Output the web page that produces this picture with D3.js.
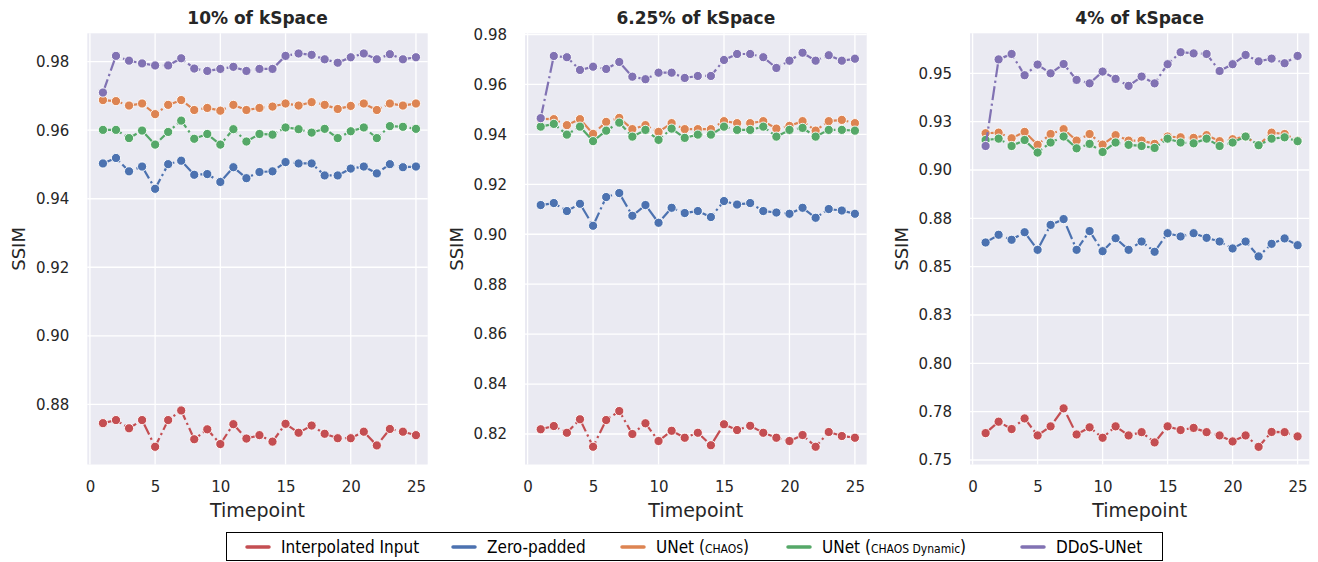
<!doctype html>
<html>
<head>
<meta charset="utf-8">
<script src="https://cdnjs.cloudflare.com/ajax/libs/d3/7.8.5/d3.min.js"></script>
<style>
  body { margin: 0; background: #fff; }
  svg text { font-family: "DejaVu Sans", sans-serif; fill: #262626; }
  .legend text { font-family: "Liberation Sans Narrow", "DejaVu Sans Condensed", "Liberation Sans", sans-serif; fill: #000; }
</style>
</head>
<body>
<svg id="chart" width="1318" height="562"></svg>
<script>
// ---- data ----
const timepoints = [1,2,3,4,5,6,7,8,9,10,11,12,13,14,15,16,17,18,19,20,21,22,23,24,25];
const seriesNames = ["Interpolated Input", "Zero-padded", "UNet (CHAOS)", "UNet (CHAOS Dynamic)", "DDoS-UNet"];
const seriesColors = ["#c44e52", "#4c72b0", "#dd8452", "#55a868", "#8172b3"];
const panelTitles = ["10% of kSpace", "6.25% of kSpace", "4% of kSpace"];

// 10% of kSpace
const interp10 = [0.8745,0.8754,0.8730,0.8754,0.8676,0.8754,0.8782,0.8698,0.8727,0.8684,0.8742,0.8700,0.8710,0.8691,0.8743,0.8717,0.8738,0.8714,0.8701,0.8701,0.8720,0.8680,0.8728,0.8720,0.8710];
const zero10   = [0.9503,0.9519,0.9480,0.9494,0.9429,0.9501,0.9511,0.9470,0.9472,0.9449,0.9492,0.9460,0.9478,0.9480,0.9507,0.9503,0.9503,0.9468,0.9468,0.9488,0.9494,0.9474,0.9501,0.9492,0.9494];
const unet10   = [0.9688,0.9685,0.9672,0.9678,0.9647,0.9674,0.9688,0.9659,0.9665,0.9657,0.9674,0.9659,0.9665,0.9669,0.9678,0.9672,0.9682,0.9674,0.9662,0.9671,0.9678,0.9659,0.9678,0.9672,0.9678];
const dyn10    = [0.9601,0.9601,0.9577,0.9599,0.9558,0.9595,0.9628,0.9575,0.9589,0.9558,0.9603,0.9567,0.9589,0.9587,0.9608,0.9603,0.9593,0.9604,0.9577,0.9597,0.9608,0.9577,0.9612,0.9610,0.9604];
const ddos10   = [0.9710,0.9817,0.9803,0.9795,0.9789,0.9789,0.9810,0.9780,0.9773,0.9779,0.9785,0.9773,0.9779,0.9779,0.9817,0.9824,0.9820,0.9807,0.9797,0.9813,0.9824,0.9807,0.9822,0.9807,0.9813];

// 6.25% of kSpace
const interp625 = [0.8219,0.8232,0.8205,0.8259,0.8149,0.8256,0.8292,0.8200,0.8243,0.8172,0.8213,0.8185,0.8205,0.8155,0.8239,0.8216,0.8233,0.8205,0.8185,0.8172,0.8196,0.8149,0.8208,0.8192,0.8185];
const zero625   = [0.9117,0.9125,0.9093,0.9122,0.9034,0.9149,0.9165,0.9074,0.9117,0.9046,0.9106,0.9085,0.9093,0.9069,0.9133,0.9119,0.9125,0.9093,0.9087,0.9082,0.9106,0.9066,0.9101,0.9095,0.9082];
const unet625   = [0.9462,0.9461,0.9437,0.9461,0.9402,0.9450,0.9466,0.9421,0.9437,0.9410,0.9445,0.9421,0.9421,0.9421,0.9453,0.9445,0.9445,0.9453,0.9423,0.9434,0.9453,0.9415,0.9453,0.9458,0.9445];
const dyn625    = [0.9431,0.9442,0.9399,0.9431,0.9373,0.9415,0.9447,0.9391,0.9418,0.9378,0.9423,0.9386,0.9399,0.9399,0.9431,0.9418,0.9418,0.9431,0.9391,0.9418,0.9426,0.9391,0.9418,0.9418,0.9415];
const ddos625   = [0.9465,0.9714,0.9709,0.9658,0.9671,0.9662,0.9690,0.9631,0.9621,0.9647,0.9647,0.9626,0.9634,0.9634,0.9698,0.9722,0.9722,0.9709,0.9666,0.9695,0.9727,0.9695,0.9717,0.9695,0.9703];

// 4% of kSpace
const interp4 = [0.7639,0.7698,0.7660,0.7715,0.7627,0.7674,0.7767,0.7632,0.7669,0.7615,0.7674,0.7627,0.7644,0.7591,0.7674,0.7655,0.7666,0.7644,0.7627,0.7596,0.7627,0.7568,0.7645,0.7644,0.7622];
const zero4   = [0.8625,0.8665,0.8639,0.8678,0.8587,0.8716,0.8746,0.8587,0.8684,0.8580,0.8647,0.8587,0.8630,0.8577,0.8673,0.8656,0.8673,0.8649,0.8630,0.8594,0.8630,0.8553,0.8618,0.8646,0.8611];
const unet4   = [0.9190,0.9193,0.9164,0.9197,0.9130,0.9186,0.9211,0.9152,0.9186,0.9131,0.9180,0.9152,0.9152,0.9135,0.9173,0.9169,0.9166,0.9180,0.9149,0.9159,0.9173,0.9128,0.9193,0.9186,0.9152];
const dyn4    = [0.9155,0.9162,0.9124,0.9155,0.9090,0.9142,0.9173,0.9112,0.9135,0.9093,0.9142,0.9130,0.9124,0.9114,0.9162,0.9142,0.9138,0.9162,0.9124,0.9142,0.9173,0.9128,0.9162,0.9169,0.9149];
const ddos4   = [0.9124,0.9572,0.9600,0.9490,0.9545,0.9500,0.9548,0.9466,0.9448,0.9509,0.9471,0.9435,0.9483,0.9448,0.9547,0.9609,0.9603,0.9600,0.9512,0.9547,0.9595,0.9562,0.9576,0.9552,0.9590];

const xTicks = [0, 5, 10, 15, 20, 25];
const yTicks10 = [0.88, 0.90, 0.92, 0.94, 0.96, 0.98];
const yTicks625 = [0.82, 0.84, 0.86, 0.88, 0.90, 0.92, 0.94, 0.96, 0.98];
const yTicks4 = [0.75, 0.775, 0.80, 0.825, 0.85, 0.875, 0.90, 0.925, 0.95];
const yTickLabels4 = ["0.75", "0.78", "0.80", "0.83", "0.85", "0.88", "0.90", "0.93", "0.95"];

// ---- layout ----
const plotTop = 33.3, plotBottom = 464.5;
const panels = [
  { title: panelTitles[0], left: 87.3, right: 427.7, y: [0.86243, 0.98829], ticks: yTicks10, labels: null,
    series: [interp10, zero10, unet10, dyn10, ddos10] },
  { title: panelTitles[1], left: 525, right: 866.7, y: [0.80779, 0.98048], ticks: yTicks625, labels: null,
    series: [interp625, zero625, unet625, dyn625, ddos625] },
  { title: panelTitles[2], left: 970, right: 1309.3, y: [0.74767, 0.97069], ticks: yTicks4, labels: yTickLabels4,
    series: [interp4, zero4, unet4, dyn4, ddos4] }
];

const svg = d3.select("#chart");

panels.forEach(p => {
  const x = d3.scaleLinear().domain([-0.2, 25.9]).range([p.left, p.right]);
  const y = d3.scaleLinear().domain(p.y).range([plotBottom, plotTop]);
  const g = svg.append("g");

  g.append("rect")
    .attr("x", p.left).attr("y", plotTop)
    .attr("width", p.right - p.left).attr("height", plotBottom - plotTop)
    .attr("fill", "#eaeaf2");

  // grid
  g.selectAll(".gx").data(xTicks).enter().append("line")
    .attr("x1", d => x(d)).attr("x2", d => x(d))
    .attr("y1", plotTop).attr("y2", plotBottom)
    .attr("stroke", "#fff").attr("stroke-width", 1.3);
  g.selectAll(".gy").data(p.ticks).enter().append("line")
    .attr("x1", p.left).attr("x2", p.right)
    .attr("y1", d => y(d)).attr("y2", d => y(d))
    .attr("stroke", "#fff").attr("stroke-width", 1.3);

  // axes (tick labels only, seaborn darkgrid style)
  const xAxis = g.append("g").attr("transform", `translate(0,${plotBottom})`)
    .call(d3.axisBottom(x).tickValues(xTicks).tickSize(0).tickPadding(17));
  const yAxis = g.append("g").attr("transform", `translate(${p.left},0)`)
    .call(d3.axisLeft(y).tickValues(p.ticks).tickSize(0).tickPadding(18)
      .tickFormat((d, i) => p.labels ? p.labels[i] : d3.format(".2f")(d)));
  [xAxis, yAxis].forEach(a => {
    a.select(".domain").remove();
    a.selectAll("text").attr("font-size", 15).attr("font-family", "DejaVu Sans").attr("fill", "#262626");
  });

  // lines + markers
  p.series.forEach((vals, si) => {
    const pts = timepoints.map((t, i) => [t, vals[i]]);
    g.append("path")
      .datum(pts)
      .attr("fill", "none")
      .attr("stroke", seriesColors[si])
      .attr("stroke-width", 2.2)
      .attr("stroke-dasharray", "14,3.5,2.2,3.5")
      .attr("d", d3.line().x(d => x(d[0])).y(d => y(d[1])));
    g.selectAll(null).data(pts).enter().append("circle")
      .attr("cx", d => x(d[0])).attr("cy", d => y(d[1]))
      .attr("r", 4.6)
      .attr("fill", seriesColors[si])
      .attr("stroke", "#fff").attr("stroke-width", 0.9);
  });

  g.append("text")
    .attr("x", (p.left + p.right) / 2).attr("y", 24)
    .attr("text-anchor", "middle")
    .attr("font-size", 17).attr("font-weight", "bold")
    .text(p.title);
  g.append("text")
    .attr("x", (p.left + p.right) / 2).attr("y", 516.5)
    .attr("text-anchor", "middle")
    .attr("font-size", 19)
    .text("Timepoint");
  g.append("text")
    .attr("transform", `translate(${p.left - 62},${(plotTop + plotBottom) / 2}) rotate(-90)`)
    .attr("text-anchor", "middle")
    .attr("font-size", 18)
    .text("SSIM");
});

// ---- legend ----
const legend = svg.append("g").attr("class", "legend");
legend.append("rect")
  .attr("x", 226.5).attr("y", 532.5).attr("width", 936).attr("height", 28)
  .attr("fill", "#fff").attr("stroke", "#000").attr("stroke-width", 1);
const legendX = [247, 453, 622, 788, 1022];
seriesNames.forEach((name, i) => {
  legend.append("line")
    .attr("x1", legendX[i]).attr("x2", legendX[i] + 22)
    .attr("y1", 547).attr("y2", 547)
    .attr("stroke", seriesColors[i]).attr("stroke-width", 3.5).attr("stroke-linecap", "round");
  const t = legend.append("text")
    .attr("x", legendX[i] + 34).attr("y", 553)
    .attr("font-size", 17);
  const m = name.match(/^(.*\()(.*)(\))$/);
  if (m) {
    t.append("tspan").text(m[1]);
    t.append("tspan").attr("font-size", 12).text(m[2]);
    t.append("tspan").text(m[3]);
  } else {
    t.text(name);
  }
});
</script>
</body>
</html>
